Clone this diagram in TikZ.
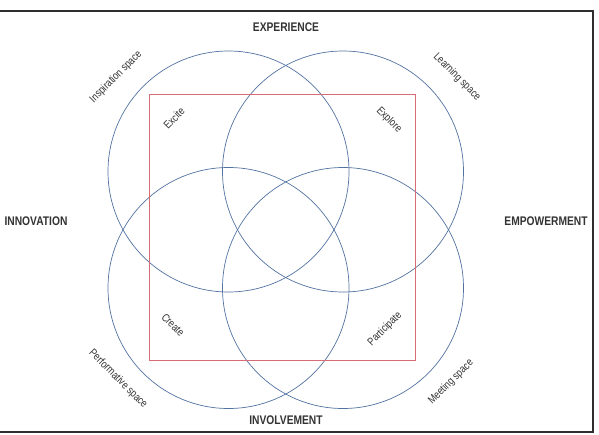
\documentclass[tikz,border=0pt]{standalone}
\usepackage{fontspec}
\setmainfont[FakeStretch=0.82]{Liberation Sans}
\definecolor{ringblue}{HTML}{5272A0}
\definecolor{boxred}{HTML}{D86C76}
\definecolor{inkgray}{HTML}{333333}
\begin{document}
\begin{tikzpicture}[x=1pt,y=-1pt,
  frameline/.style={draw=inkgray!90!black,line width=1.3pt},
  ring/.style={draw=ringblue,line width=0.7pt,circle,minimum size=241pt,inner sep=0pt},
  redbox/.style={draw=boxred,line width=0.8pt,minimum width=266pt,minimum height=266pt,inner sep=0pt},
  headlbl/.style={font=\bfseries\fontsize{12.5}{14}\selectfont,text=inkgray,inner sep=0pt},
  smalllbl/.style={font=\fontsize{11}{13}\selectfont,text=inkgray,inner sep=0pt}]
\useasboundingbox (0,0) rectangle (599,434);
\coordinate (f1) at (0,11);
\coordinate (f2) at (593,11);
\coordinate (f3) at (593,432);
\coordinate (f4) at (0,432);
\draw[frameline] (f1) -- (f2) -- (f3) -- (f4);
\node[ring] (tl) at (228.5,171.5) {};
\node[ring] (tr) at (343,171.5) {};
\node[ring] (bl) at (228.5,288) {};
\node[ring] (br) at (343,288) {};
\node[redbox] (sq) at (282,227) {};
\node[headlbl] (exp) at (286,27) {EXPERIENCE};
\node[headlbl] (inn) at (36,221) {INNOVATION};
\node[headlbl] (emp) at (546,221) {EMPOWERMENT};
\node[headlbl] (inv) at (286,420) {INVOLVEMENT};
\node[smalllbl,rotate=45] (insp) at (116,77) {Inspiration space};
\node[smalllbl,rotate=45] (exc) at (174,118) {Excite};
\node[smalllbl,rotate=-45] (learn) at (457,77) {Learning space};
\node[smalllbl,rotate=-45] (expl) at (389,120) {Explore};
\node[smalllbl,rotate=-45] (crea) at (173,325) {Create};
\node[smalllbl,rotate=-45] (perf) at (118,379) {Performative space};
\node[smalllbl,rotate=45] (part) at (385,329) {Participate};
\node[smalllbl,rotate=45] (meet) at (451,382) {Meeting space};
\end{tikzpicture}
\end{document}
